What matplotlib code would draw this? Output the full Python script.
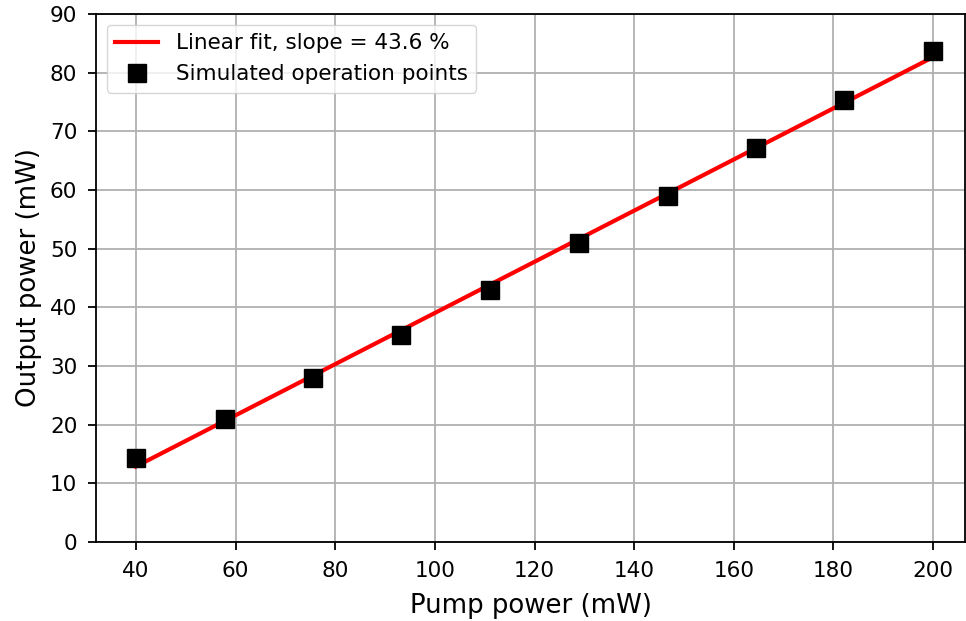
import numpy as np
import matplotlib
matplotlib.use("Agg")
import matplotlib.pyplot as plt

# ── data ───────────────────────────────────────────────────────────────────────
pump_mw = [40.0, 57.8, 75.6, 93.3, 111.1, 128.9, 146.7, 164.4, 182.2, 200.0]
output_mw = [14.4, 20.9, 28.0, 35.3, 43.0, 50.9, 59.0, 67.1, 75.3, 83.7]
fit_label = "Linear fit, slope = 43.6 %"
points_label = "Simulated operation points"
x_ticks = [40, 60, 80, 100, 120, 140, 160, 180, 200]
y_ticks = [0, 10, 20, 30, 40, 50, 60, 70, 80, 90]

# linear fit of the simulated points
coef = np.polyfit(pump_mw, output_mw, 1)
fit_y = np.polyval(coef, pump_mw)

# ── canvas ─────────────────────────────────────────────────────────────────────
fig = plt.figure(figsize=(9.66, 6.21), dpi=100)
ax = fig.add_axes([0.0994, 0.1272, 0.8996, 0.8503])

ax.plot(pump_mw, fit_y, color="red", lw=3.0, label=fit_label, zorder=3)
ax.plot(pump_mw, output_mw, ls="none", marker="s", ms=13, color="black",
        label=points_label, zorder=4)

ax.set_xlim(32, 206.4)
ax.set_ylim(0, 90)
ax.set_xticks(x_ticks)
ax.set_yticks(y_ticks)
ax.grid(True, color="#b0b0b0", lw=1.3)
ax.set_axisbelow(True)
ax.tick_params(labelsize=15.5, width=1.3, length=6, pad=7.5)
for s in ax.spines.values():
    s.set_linewidth(1.3)

ax.set_xlabel("Pump power (mW)", fontsize=18.7, labelpad=9)
ax.set_ylabel("Output power (mW)", fontsize=18.7, labelpad=6)
ax.legend(loc="upper left", fontsize=15.5, borderaxespad=0.5)

fig.savefig("out.png", dpi=100, facecolor="white")
